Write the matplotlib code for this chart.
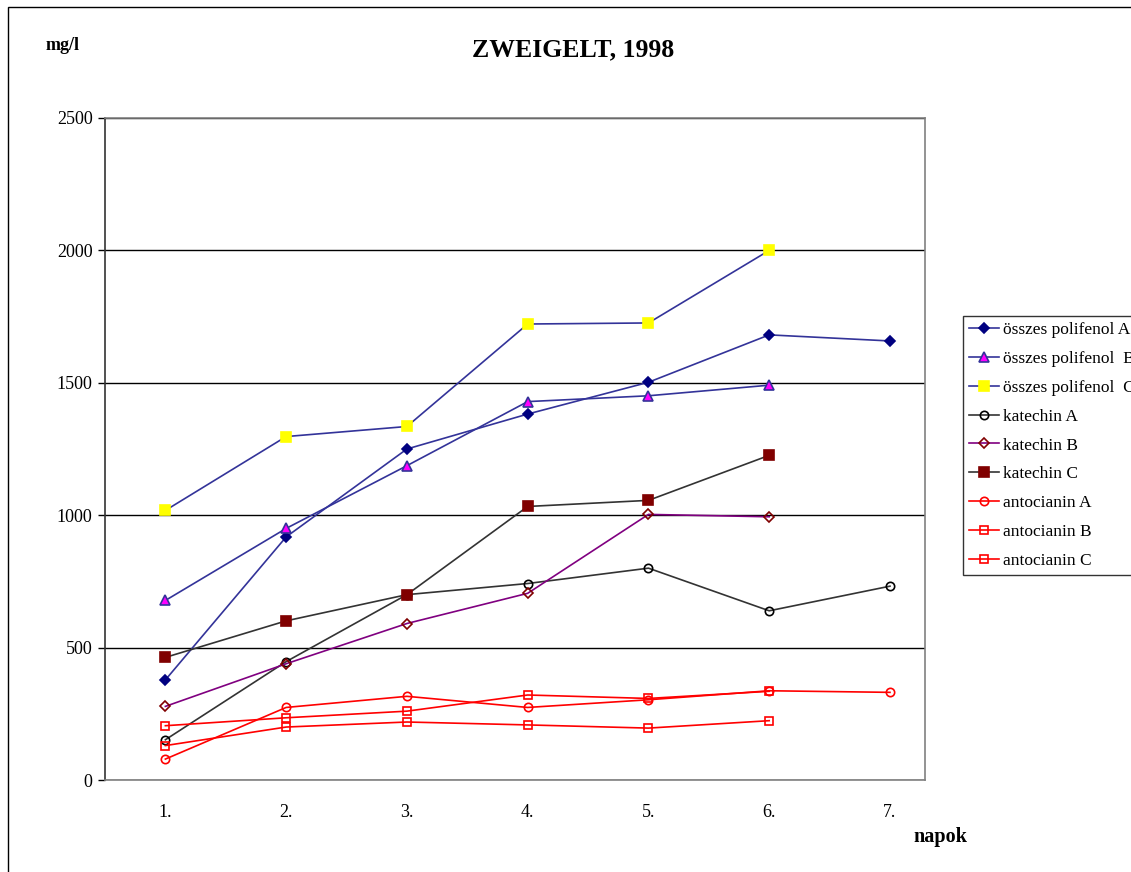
import matplotlib
matplotlib.use('Agg')
import matplotlib.pyplot as plt
from matplotlib.patches import Rectangle

plt.rcParams['font.family'] = ['Liberation Serif', 'DejaVu Serif']

days = [1, 2, 3, 4, 5, 6, 7]
day_labels = ['1.', '2.', '3.', '4.', '5.', '6.', '7.']

polifenol_a = [378, 918, 1250, 1382, 1502, 1681, 1658]
polifenol_b = [678, 950, 1187, 1429, 1451, 1491]
polifenol_c = [1018, 1297, 1335, 1722, 1726, 2000]
katechin_a = [152, 447, 700, 742, 800, 639, 732]
katechin_b = [278, 439, 591, 705, 1003, 994]
katechin_c = [463, 601, 700, 1033, 1056, 1226]
antocianin_a = [79, 274, 316, 274, 303, 337, 331]
antocianin_b = [130, 200, 219, 208, 196, 224]
antocianin_c = [205, 235, 260, 321, 308, 335]

fig = plt.figure(figsize=(11.31, 8.72), dpi=100)
ax = fig.add_axes([105/1131, 1-780/872, 820/1131, 662/872])

blue = '#333399'
dark = '#333333'

def draw(vals, label, lc, marker, mfc, mec, ms):
    ax.plot(days[:len(vals)], vals, color=lc, lw=1.2, marker=marker,
            markerfacecolor=mfc, markeredgecolor=mec, markersize=ms,
            markeredgewidth=1.2, label=label)

draw(polifenol_a, 'összes polifenol A', blue, 'D', '#000080', '#000080', 5.5)
draw(polifenol_b, 'összes polifenol  B', blue, '^', '#FF00FF', blue, 7)
draw(polifenol_c, 'összes polifenol  C', blue, 's', '#FFFF00', '#FFFF00', 7)
draw(katechin_a, 'katechin A', dark, 'o', 'none', 'black', 6)
draw(katechin_b, 'katechin B', '#800080', 'D', 'none', '#800000', 5)
draw(katechin_c, 'katechin C', dark, 's', '#800000', '#800000', 7)
draw(antocianin_a, 'antocianin A', 'red', 'o', 'none', 'red', 6)
draw(antocianin_b, 'antocianin B', 'red', 's', 'none', 'red', 6)
draw(antocianin_c, 'antocianin C', 'red', 's', 'none', 'red', 6)

ax.set_xlim(0.5, 7.29)
ax.set_ylim(0, 2500)
ax.set_yticks([0, 500, 1000, 1500, 2000, 2500])
ax.set_xticks(days)
ax.set_xticklabels(day_labels)
ax.tick_params(axis='x', length=0, pad=17, labelsize=13)
ax.tick_params(axis='y', length=5, width=1, labelsize=13, pad=4)
ax.yaxis.grid(True, color='black', lw=1)
ax.set_axisbelow(True)
for s in ['top', 'right', 'bottom']:
    ax.spines[s].set_color('#808080')
    ax.spines[s].set_linewidth(1.2)
ax.spines['left'].set_color('#333333')
ax.spines['left'].set_linewidth(1.2)

fig.text(573/1131, 1-50/872, 'ZWEIGELT, 1998', ha='center', va='center',
         fontsize=18.5, fontweight='bold')
fig.text(63/1131, 1-45/872, 'mg/l', ha='center', va='center',
         fontsize=13, fontweight='bold')
fig.text(940/1131, 1-837/872, 'napok', ha='center', va='center',
         fontsize=14.5, fontweight='bold')

leg = fig.legend(loc='upper left', bbox_to_anchor=(963/1131, 1-316/872),
                 frameon=True, fontsize=12.5, handlelength=1.75, labelspacing=0.73,
                 borderpad=0.35, borderaxespad=0, handletextpad=0.2,
                 fancybox=False, edgecolor='black')
leg.get_frame().set_linewidth(1)

fig.patches.append(Rectangle((7.5/1131, -0.1), 2, 1.1 - 7.5/872,
                             transform=fig.transFigure, fill=False,
                             edgecolor='black', lw=1))

fig.savefig('out.png', dpi=100)
